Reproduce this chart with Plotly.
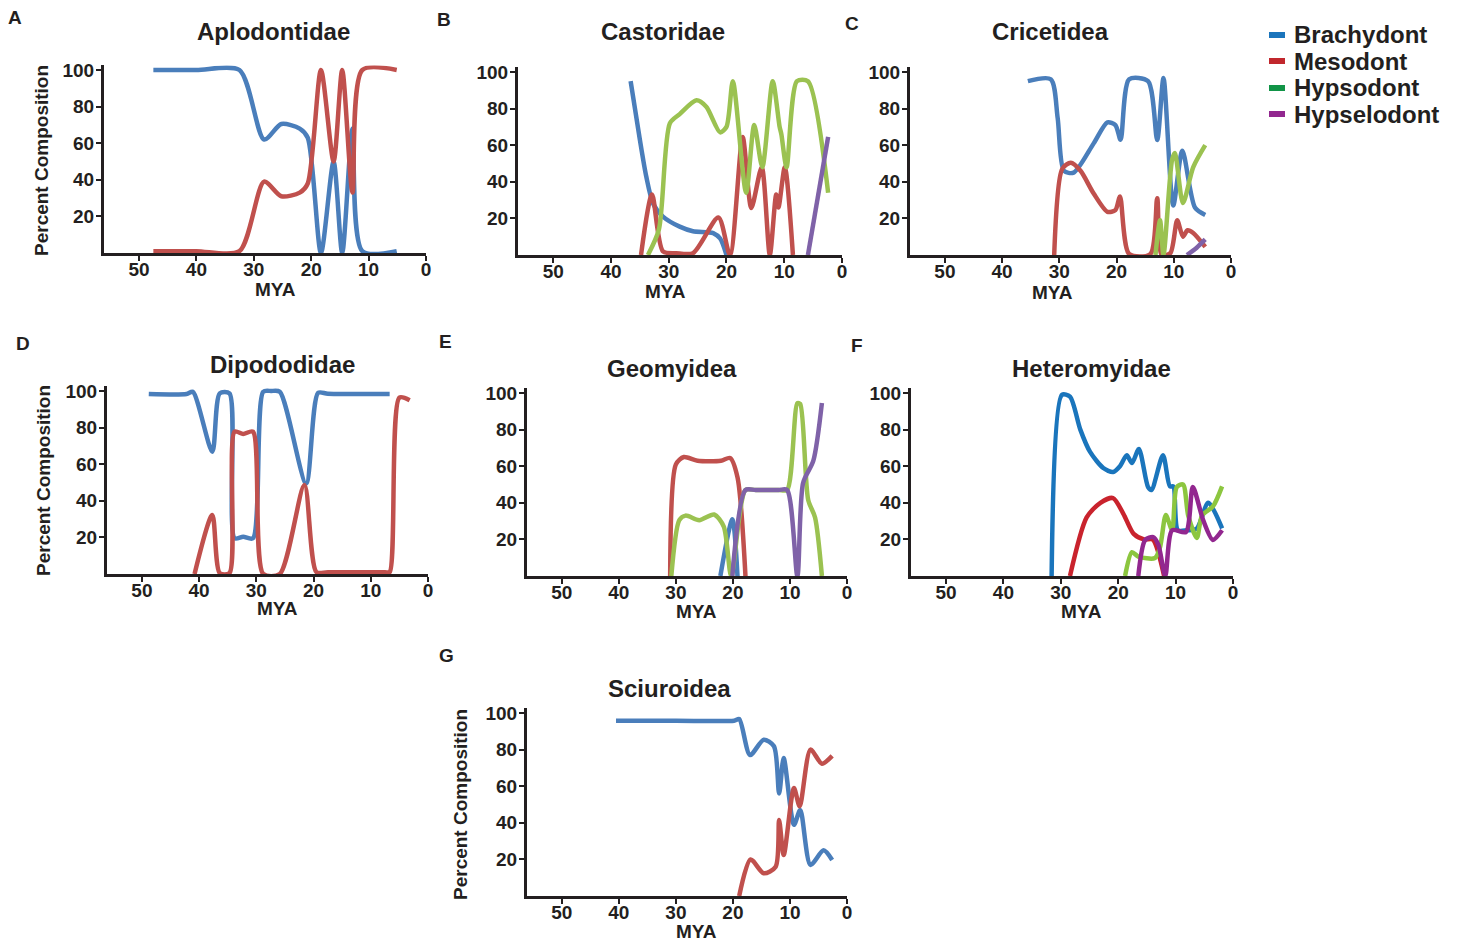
import plotly.graph_objects as go

# ---------------- data (MYA, percent composition) ----------------
A_x = [47.5, 40.0, 32.5, 28.2, 25.2, 22.0, 20.6, 18.3, 16.1, 14.6, 12.8, 11.1, 5.1]
A_brachy = [100, 100, 100, 62, 70.5, 68, 63, 0, 50, 0, 68, 1, 1]
A_meso = [1, 1, 1, 39, 31, 33, 38, 100, 50, 100, 33, 100, 100]

B_brachy_x = [36.6, 35.0, 33.9, 32.7, 31.0, 28.1, 25.8, 22.3, 21.1, 20.0]
B_brachy = [95, 63, 43, 28, 21, 15.5, 13, 12, 9, 0]
B_meso_x = [34.8, 32.9, 31.0, 28.7, 25.8, 21.4, 19.4, 17.2, 15.7, 13.9, 12.5, 11.4, 11.0, 9.9, 8.5]
B_meso = [0, 33, 2, 1, 1, 20.5, 0, 64.5, 25.7, 48, 0, 33, 26, 48, 0]
B_hypso_x = [33.6, 31.7, 29.8, 28.1, 25.2, 23.5, 21.1, 20.0, 18.9, 16.6, 15.2, 13.8, 12.0, 10.8, 10.5, 9.6, 7.8, 5.9, 2.4]
B_hypso = [0, 14, 72, 77, 84.5, 81, 67, 70, 95, 34, 71, 48, 95, 70, 66, 48, 95, 95, 34]
B_hypsel_x = [5.9, 2.4]
B_hypsel = [0, 64.5]

C_brachy_x = [35.5, 31.5, 30.3, 29.2, 27.5, 24.0, 21.6, 20.2, 19.3, 17.8, 14.5, 12.9, 11.8, 10.1, 8.5, 6.3, 4.5]
C_brachy = [95, 96, 75, 46, 45, 61, 72.5, 71, 63, 96, 95, 62.8, 96.7, 27, 57, 26, 21.9]
C_meso_x = [30.9, 29.5, 28.0, 26.3, 24.0, 21.6, 20.2, 19.4, 17.8, 14.1, 12.9, 12.1, 10.6, 9.4, 8.4, 7.6, 6.6, 4.5]
C_meso = [0, 47, 50.4, 46, 33.6, 23.6, 24.5, 32, 0.5, 0.5, 31, 0, 1, 19, 10, 13.5, 12, 4.4]
C_hypso_x = [13.2, 12.4, 11.8, 10.3, 9.8, 8.4, 6.6, 4.5]
C_hypso = [0, 19, 0, 52, 55.7, 28.4, 48, 60]
C_hypsel_x = [7.7, 6.0, 4.5]
C_hypsel = [0, 4, 8.5]

D_brachy_x = [48.8, 42.2, 41.1, 37.7, 36.4, 34.7, 33.8, 32.3, 30.6, 28.8, 27.4, 25.9, 21.3, 19.2, 17.5, 8.5, 6.7]
D_brachy = [98.4, 98.4, 99.6, 66.8, 98.7, 98.7, 19.5, 20.4, 19.5, 99.6, 100, 99.6, 49.5, 99, 98.5, 98.4, 98.4]
D_meso_x = [40.8, 37.7, 36.4, 34.7, 33.8, 32.3, 30.6, 28.8, 25.9, 21.6, 19.5, 17.5, 9.0, 7.5, 6.7, 5.0, 3.2]
D_meso = [0, 32.2, 0.5, 0.5, 77.8, 76.5, 77.8, 0, 0, 48.6, 1, 1, 1, 1, 1, 96.4, 95]

E_brachy_x = [22.2, 20.1, 19.2]
E_brachy = [0, 31, 0]
E_meso_x = [31.0, 30.0, 28.6, 26.2, 22.1, 20.5, 19.2, 17.8]
E_meso = [0, 61, 65, 63, 63, 64.5, 54, 0]
E_hypso_x = [30.8, 29.4, 28.3, 25.9, 23.3, 21.6, 20.3, 17.8, 16.0, 12.0, 10.5, 8.7, 8.2, 6.8, 5.6, 4.4]
E_hypso = [0, 30.5, 33, 30.5, 33.6, 27, 0, 47, 47, 47, 47, 94.5, 94, 41.5, 32, 0]
E_hypsel_x = [20.1, 17.8, 16.0, 12.0, 10.5, 8.7, 7.7, 5.9, 4.4]
E_hypsel = [0, 47, 47, 47, 47, 0, 50.8, 63, 94.5]

F_brachy_x = [31.6, 29.8, 28.4, 26.6, 24.9, 22.6, 20.9, 19.7, 18.5, 17.6, 16.4, 14.8, 14.2, 12.2, 11.0, 10.4, 9.6, 8.0, 6.3, 4.3, 1.9]
F_brachy = [0, 99, 98, 80, 67.8, 59, 56.8, 60, 66, 61.7, 69.4, 48.6, 47, 66, 49, 49, 25, 25, 26, 40, 26]
F_meso_x = [28.4, 25.5, 23.1, 20.9, 19.1, 17.3, 15.5, 14.0, 12.0]
F_meso = [0, 32, 40, 42.6, 34, 23, 20, 20, 0]
F_hypso_x = [18.8, 17.6, 16.5, 13.6, 12.7, 11.7, 10.6, 9.8, 8.7, 7.8, 6.3, 5.4, 3.5, 1.9]
F_hypso = [0, 13, 10.6, 9.8, 16, 33.3, 25, 48.6, 50, 33, 20.8, 33, 38, 49]
F_hypsel_x = [16.5, 15.3, 13.9, 13.0, 11.8, 10.6, 8.2, 7.0, 5.2, 3.5, 1.9]
F_hypsel = [0, 19.7, 21.3, 17, 0, 25, 24, 48.6, 30.6, 19.7, 25]

G_brachy_x = [40.5, 30.0, 19.8, 18.9, 17.0, 14.6, 12.8, 11.9, 11.1, 9.3, 8.2, 6.4, 4.1, 2.6]
G_brachy = [95.8, 95.8, 95.8, 96.7, 77, 85.4, 81.8, 56, 75.4, 38.9, 47, 17, 25, 19.7]
G_meso_x = [18.9, 16.9, 14.6, 12.5, 11.9, 11.1, 9.3, 8.3, 6.4, 4.4, 2.6]
G_meso = [0, 20, 12.4, 16, 41.6, 22.4, 59, 49, 80, 72.3, 76.6]

panel_titles = ["Aplodontidae", "Castoridae", "Cricetidea", "Dipododidae",
                "Geomyidea", "Heteromyidae", "Sciuroidea"]
panel_letters = ["A", "B", "C", "D", "E", "F", "G"]
legend_names = ["Brachydont", "Mesodont", "Hypsodont", "Hypselodont"]
x_ticks = [50, 40, 30, 20, 10, 0]
y_ticks = [20, 40, 60, 80, 100]

# ---------------- styling ----------------
W, H = 1460, 943
FONT = "Liberation Sans, Arial, sans-serif"
INK = "#231f20"
XL = {"b": "#4a7ebb", "m": "#c0504d", "h": "#9bc251", "p": "#7f62a8"}
IL = {"b": "#1a75bc", "m": "#c9232d", "h": "#8cc63f", "p": "#92278f"}
LEG_COLORS = ["#1b75bc", "#c1272d", "#119447", "#92278f"]
Y_TOP = 102.5  # headroom so lines at 100 are not clipped

# pixel boxes: (left, right, y-pixel of 0, y-pixel of 100)
boxes = [
    (104, 426, 253, 70),
    (518, 842, 255, 72),
    (910, 1231, 255, 72),
    (107, 428, 574, 391),
    (527, 847, 576, 393),
    (911, 1233, 576, 393),
    (527, 847, 896, 713),
]
title_pos = [(273, 31), (663, 32), (1050, 31), (282, 365), (672, 368), (1091, 369), (669, 688)]
letter_pos = [(15, 17), (444, 20), (852, 23), (23, 343), (445, 342), (857, 346), (446, 655)]
mya_pos = [(275, 289), (665, 291), (1052, 293), (277, 608), (696, 611), (1081, 611), (696, 931)]
ytitle_pos = [(41, 161), (43, 481), (460, 805)]

series = [
    [(A_x, A_brachy, XL["b"]), (A_x, A_meso, XL["m"])],
    [(B_brachy_x, B_brachy, XL["b"]), (B_meso_x, B_meso, XL["m"]),
     (B_hypso_x, B_hypso, XL["h"]), (B_hypsel_x, B_hypsel, XL["p"])],
    [(C_brachy_x, C_brachy, XL["b"]), (C_meso_x, C_meso, XL["m"]),
     (C_hypso_x, C_hypso, XL["h"]), (C_hypsel_x, C_hypsel, XL["p"])],
    [(D_brachy_x, D_brachy, XL["b"]), (D_meso_x, D_meso, XL["m"])],
    [(E_brachy_x, E_brachy, XL["b"]), (E_meso_x, E_meso, XL["m"]),
     (E_hypso_x, E_hypso, XL["h"]), (E_hypsel_x, E_hypsel, XL["p"])],
    [(F_brachy_x, F_brachy, IL["b"]), (F_meso_x, F_meso, IL["m"]),
     (F_hypso_x, F_hypso, IL["h"]), (F_hypsel_x, F_hypsel, IL["p"])],
    [(G_brachy_x, G_brachy, XL["b"]), (G_meso_x, G_meso, XL["m"])],
]

fig = go.Figure()
annotations = []
shapes = []


def px_x(v):
    return v / W


def px_y(v):
    return 1 - v / H


for i, (box, sers) in enumerate(zip(boxes, series)):
    n = "" if i == 0 else str(i + 1)
    l, r, b, t = box
    top = t - (b - t) * (Y_TOP - 100) / 100.0
    for xs, ys, col in sers:
        fig.add_trace(go.Scatter(
            x=xs, y=ys, mode="lines", xaxis="x" + n, yaxis="y" + n,
            line=dict(color=col, width=4.5, shape="spline", smoothing=0.75),
            showlegend=False, hoverinfo="skip"))
    axcommon = dict(showgrid=False, zeroline=False, showline=True, linecolor=INK,
                    linewidth=3, ticks="outside", tickcolor=INK, tickwidth=2,
                    ticklen=5, tickfont=dict(family=FONT, size=19, color=INK, weight="bold"))
    fig.update_layout(**{
        "xaxis" + n: dict(domain=[px_x(l), px_x(r)], range=[56.1, 0], anchor="y" + n,
                          tickmode="array", tickvals=x_ticks, ticklabelstandoff=-8, **axcommon),
        "yaxis" + n: dict(domain=[px_y(b), px_y(top)], range=[0, Y_TOP], anchor="x" + n,
                          tickmode="array", tickvals=y_ticks, ticklabelstandoff=-2, **axcommon),
    })
    tx, ty = title_pos[i]
    annotations.append(dict(text=panel_titles[i], x=px_x(tx), y=px_y(ty), xref="paper", yref="paper",
                            showarrow=False, xanchor="center", yanchor="middle",
                            font=dict(family=FONT, size=24, color=INK, weight="bold")))
    lx, ly = letter_pos[i]
    annotations.append(dict(text=panel_letters[i], x=px_x(lx), y=px_y(ly), xref="paper", yref="paper",
                            showarrow=False, xanchor="center", yanchor="middle",
                            font=dict(family=FONT, size=19, color=INK, weight="bold")))
    mx, my = mya_pos[i]
    annotations.append(dict(text="MYA", x=px_x(mx), y=px_y(my), xref="paper", yref="paper",
                            showarrow=False, xanchor="center", yanchor="middle",
                            font=dict(family=FONT, size=19, color=INK, weight="bold")))

for yx, yy in ytitle_pos:
    annotations.append(dict(text="Percent Composition", x=px_x(yx), y=px_y(yy), xref="paper", yref="paper",
                            showarrow=False, xanchor="center", yanchor="middle", textangle=-90,
                            font=dict(family=FONT, size=19, color=INK, weight="bold")))

# legend (swatch + label)
leg_y = [35, 61, 88, 114]
for name, col, ly in zip(legend_names, LEG_COLORS, leg_y):
    shapes.append(dict(type="rect", xref="paper", yref="paper",
                       x0=px_x(1269), x1=px_x(1285), y0=px_y(ly + 3), y1=px_y(ly - 3),
                       fillcolor=col, line=dict(width=0)))
    annotations.append(dict(text=name, x=px_x(1292), y=px_y(ly), xref="paper", yref="paper",
                            showarrow=False, xanchor="left", yanchor="middle",
                            font=dict(family=FONT, size=24, color=INK, weight="bold")))

fig.update_layout(width=W, height=H, margin=dict(l=0, r=0, t=0, b=0, pad=0, autoexpand=False),
                  paper_bgcolor="white", plot_bgcolor="white",
                  annotations=annotations, shapes=shapes,
                  font=dict(family=FONT, color=INK))

fig.write_html("out.html")
